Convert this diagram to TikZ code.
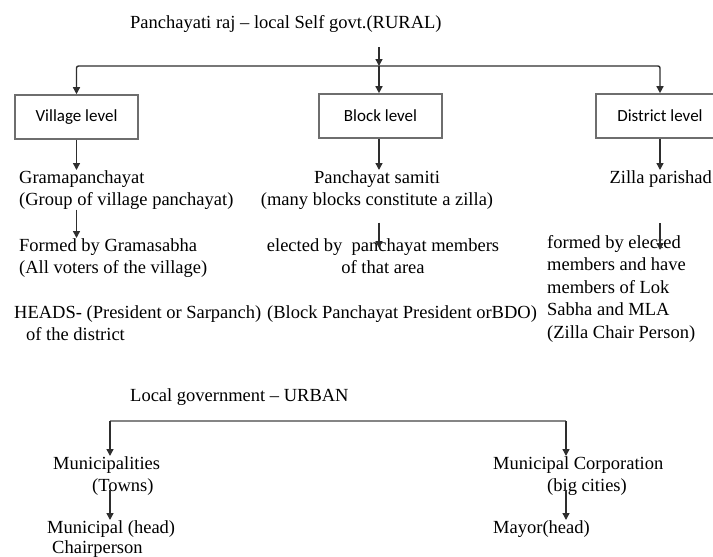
\documentclass[tikz,border=0pt]{standalone}
\usepackage{fontspec}
\setmainfont{Liberation Serif}
\newfontfamily\boxfont{Carlito}
\usepackage{xcolor}
\usepackage{tikz}
\usetikzlibrary{positioning,arrows.meta,calc}
\definecolor{boxgrey}{HTML}{6E6E6E}
\definecolor{linegrey}{HTML}{2E2E2E}
\definecolor{ubargrey}{HTML}{858585}
\tikzset{
  lvlbox/.style={rectangle, draw=boxgrey, line width=1.6pt, minimum width=#1,
                 minimum height=44pt, inner sep=0pt,
                 font=\boxfont\fontsize{17}{20}\selectfont},
  txt/.style={inner sep=0pt, align=left, anchor=north west,
              font=\fontsize{18.5}{22.5}\selectfont},
  ctxt/.style={txt, align=center, anchor=north},
  arr/.style={-{Triangle[length=7pt,width=7pt]}, line width=1.4pt, draw=linegrey},
  ubar/.style={line width=2.6pt, draw=ubargrey},
}

\begin{document}
\begin{tikzpicture}[x=1pt,y=-1pt]
  \useasboundingbox (0,0) rectangle (713,557);
  \clip (0,0) rectangle (713,557);

  % rural
  \node[txt, anchor=west] (rural) at (130,24) {Panchayati raj -- local Self govt.(RURAL)};
  \coordinate (rtop) at (379,47);
  \coordinate (rjoin) at (379,66);

  \node[lvlbox=123pt] (village) at (76.5,117) {Village level};
  \node[lvlbox=123pt] (block) at (380.5,116) {Block level};
  \node[lvlbox=128pt] (district) at (660,116) {District level};

  \node[txt] (grama) at (19,170) {Gramapanchayat\\(Group of village panchayat)};
  \node[txt] (formed) at (19,238) {Formed by Gramasabha\\(All voters of the village)};
  \node[txt] (heads) at (14,305) {HEADS- (President or Sarpanch)\\\hspace{12pt}of the district};

  \node[ctxt] (samiti) at (377,170) {Panchayat samiti\\(many blocks constitute a zilla)};
  \node[ctxt] (elected) at (383,238) {elected by\ \ panchayat members\\of that area};
  \node[txt] (bpres) at (267,305) {(Block Panchayat President orBDO)};

  \node[txt, anchor=north east] (zilla) at (712,170) {Zilla parishad};
  \node[txt] (dform) at (547,235) {formed by elected\\members and have\\members of Lok\\Sabha and MLA\\(Zilla Chair Person)};

  \draw[arr] (rtop) -- (rjoin);
  \draw[arr, rounded corners=2pt] (rjoin) -| (village);
  \draw[arr, rounded corners=2pt] (rjoin) -| (district);
  \draw[arr] (rjoin) -- (rjoin |- block.north);

  \draw[arr] (village) -- (village |- grama.north);
  \draw[arr] (village |- grama.south) -- (village |- formed.north);
  \draw[arr] (rjoin |- block.south) -- (rjoin |- samiti.north);
  \draw[arr] ([yshift=-13pt]rjoin |- samiti.south) -- ([yshift=-10pt]rjoin |- elected.north);
  \draw[arr] (district) -- (district |- zilla.north);
  \draw[arr] ([yshift=-36pt]district |- zilla.south) -- ([yshift=-15pt]district |- dform.north);

  % urban
  \node[txt, anchor=west] (urban) at (130,397) {Local government -- URBAN};
  \coordinate (ujoinL) at (110,421);
  \coordinate (ujoinR) at (566,421);

  \node[txt] (muni) at (53,456) {Municipalities\\\hspace{39pt}(Towns)};
  \node[txt, font=\fontsize{18.5}{20}\selectfont] (mhead) at (47,520) {Municipal (head)\\\hspace{5pt}Chairperson};
  \node[txt] (corp) at (493,456) {Municipal Corporation\\\hspace{54pt}(big cities)};
  \node[txt] (mayor) at (493,520) {Mayor(head)};

  \draw[ubar] (ujoinL) -- (ujoinR);
  \draw[arr] (ujoinL) -- (ujoinL |- muni.north);
  \draw[arr] (ujoinR) -- (ujoinR |- corp.north);
  \draw[arr] ([yshift=6pt]ujoinL |- muni.south) -- (ujoinL |- mhead.north);
  \draw[arr] ([yshift=6pt]ujoinR |- corp.south) -- (ujoinR |- mayor.north);
\end{tikzpicture}
\end{document}
